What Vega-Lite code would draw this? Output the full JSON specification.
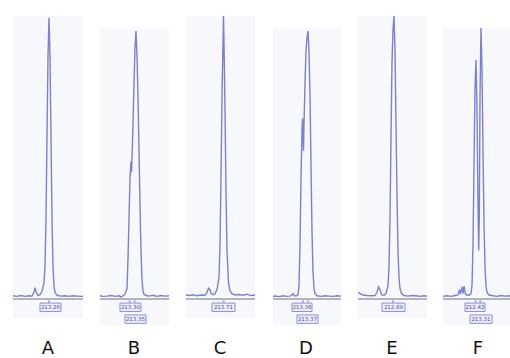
{
  "$schema": "https://vega.github.io/schema/vega-lite/v6.json",
  "padding": {"left": 10, "top": 13, "right": 0, "bottom": 0},
  "background": "white",
  "bounds": "flush",
  "config": {"view": {"stroke": null}, "facet": {"spacing": 16}},
  "data": {"values": [
      {"kind":"bg","panel": "A", "t1": 0, "t2": 70, "top": 105, "bottom": -7},
      {"kind":"bg","panel": "B", "t1": 1, "t2": 70, "top": 100.6, "bottom": -9.6},
      {"kind":"bg","panel": "C", "t1": 1, "t2": 70, "top": 105, "bottom": -7},
      {"kind":"bg","panel": "D", "t1": 2, "t2": 70, "top": 100.6, "bottom": -9.6},
      {"kind":"bg","panel": "E", "t1": 1, "t2": 70, "top": 105, "bottom": -7},
      {"kind":"bg","panel": "F", "t1": 0, "t2": 70, "top": 100.6, "bottom": -9.6},
      {"kind":"trace","panel":"A","t":0,"v":1.2},{"kind":"trace","panel":"A","t":4,"v":1.0},{"kind":"trace","panel":"A","t":8,"v":1.3},{"kind":"trace","panel":"A","t":12,"v":1.0},{"kind":"trace","panel":"A","t":16,"v":1.2},{"kind":"trace","panel":"A","t":19,"v":1.1},{"kind":"trace","panel":"A","t":21,"v":2.5},{"kind":"trace","panel":"A","t":22,"v":4.2},{"kind":"trace","panel":"A","t":23,"v":2.8},{"kind":"trace","panel":"A","t":25,"v":1.3},{"kind":"trace","panel":"A","t":27,"v":1.6},{"kind":"trace","panel":"A","t":29,"v":2.8},{"kind":"trace","panel":"A","t":31,"v":6},{"kind":"trace","panel":"A","t":32,"v":12},{"kind":"trace","panel":"A","t":33,"v":30},{"kind":"trace","panel":"A","t":34,"v":60},{"kind":"trace","panel":"A","t":35,"v":90},{"kind":"trace","panel":"A","t":36,"v":104.3},{"kind":"trace","panel":"A","t":37,"v":90},{"kind":"trace","panel":"A","t":38,"v":60},{"kind":"trace","panel":"A","t":39,"v":30},{"kind":"trace","panel":"A","t":40,"v":12},{"kind":"trace","panel":"A","t":41,"v":5},{"kind":"trace","panel":"A","t":42,"v":2.5},{"kind":"trace","panel":"A","t":44,"v":1.4},{"kind":"trace","panel":"A","t":48,"v":1.1},{"kind":"trace","panel":"A","t":52,"v":1.2},{"kind":"trace","panel":"A","t":56,"v":1.0},{"kind":"trace","panel":"A","t":60,"v":1.2},{"kind":"trace","panel":"A","t":64,"v":1.1},{"kind":"trace","panel":"A","t":68,"v":1.0},{"kind":"trace","panel":"A","t":70,"v":1.1},
      {"kind":"trace","panel":"B","t":1,"v":1.2},{"kind":"trace","panel":"B","t":4,"v":1.0},{"kind":"trace","panel":"B","t":8,"v":1.1},{"kind":"trace","panel":"B","t":12,"v":1.3},{"kind":"trace","panel":"B","t":16,"v":1.0},{"kind":"trace","panel":"B","t":20,"v":1.2},{"kind":"trace","panel":"B","t":22,"v":0.8},{"kind":"trace","panel":"B","t":24,"v":1.2},{"kind":"trace","panel":"B","t":26,"v":1.8},{"kind":"trace","panel":"B","t":28,"v":4},{"kind":"trace","panel":"B","t":29,"v":15},{"kind":"trace","panel":"B","t":30,"v":30},{"kind":"trace","panel":"B","t":31,"v":45},{"kind":"trace","panel":"B","t":32,"v":51},{"kind":"trace","panel":"B","t":32.5,"v":47},{"kind":"trace","panel":"B","t":33,"v":52},{"kind":"trace","panel":"B","t":34,"v":65},{"kind":"trace","panel":"B","t":35,"v":80},{"kind":"trace","panel":"B","t":36,"v":93},{"kind":"trace","panel":"B","t":37,"v":99.4},{"kind":"trace","panel":"B","t":38,"v":90},{"kind":"trace","panel":"B","t":39,"v":75},{"kind":"trace","panel":"B","t":40,"v":55},{"kind":"trace","panel":"B","t":41,"v":35},{"kind":"trace","panel":"B","t":42,"v":18},{"kind":"trace","panel":"B","t":43,"v":7},{"kind":"trace","panel":"B","t":44,"v":3},{"kind":"trace","panel":"B","t":45,"v":1.8},{"kind":"trace","panel":"B","t":47,"v":1.3},{"kind":"trace","panel":"B","t":50,"v":1.1},{"kind":"trace","panel":"B","t":54,"v":1.4},{"kind":"trace","panel":"B","t":58,"v":1.0},{"kind":"trace","panel":"B","t":62,"v":1.3},{"kind":"trace","panel":"B","t":66,"v":1.1},{"kind":"trace","panel":"B","t":70,"v":1.2},
      {"kind":"trace","panel":"C","t":1,"v":1.5},{"kind":"trace","panel":"C","t":4,"v":1.3},{"kind":"trace","panel":"C","t":8,"v":1.6},{"kind":"trace","panel":"C","t":12,"v":1.2},{"kind":"trace","panel":"C","t":16,"v":1.5},{"kind":"trace","panel":"C","t":20,"v":1.4},{"kind":"trace","panel":"C","t":22,"v":2.5},{"kind":"trace","panel":"C","t":23.5,"v":4},{"kind":"trace","panel":"C","t":25,"v":3.5},{"kind":"trace","panel":"C","t":26,"v":2},{"kind":"trace","panel":"C","t":28,"v":1.6},{"kind":"trace","panel":"C","t":30,"v":2},{"kind":"trace","panel":"C","t":32,"v":3.5},{"kind":"trace","panel":"C","t":34,"v":8},{"kind":"trace","panel":"C","t":35,"v":20},{"kind":"trace","panel":"C","t":36,"v":45},{"kind":"trace","panel":"C","t":37,"v":75},{"kind":"trace","panel":"C","t":38,"v":95},{"kind":"trace","panel":"C","t":38.5,"v":105},{"kind":"trace","panel":"C","t":39,"v":95},{"kind":"trace","panel":"C","t":40,"v":70},{"kind":"trace","panel":"C","t":41,"v":40},{"kind":"trace","panel":"C","t":42,"v":18},{"kind":"trace","panel":"C","t":43.5,"v":6},{"kind":"trace","panel":"C","t":45,"v":3},{"kind":"trace","panel":"C","t":47,"v":2},{"kind":"trace","panel":"C","t":50,"v":1.5},{"kind":"trace","panel":"C","t":54,"v":1.7},{"kind":"trace","panel":"C","t":58,"v":1.4},{"kind":"trace","panel":"C","t":62,"v":1.8},{"kind":"trace","panel":"C","t":66,"v":1.3},{"kind":"trace","panel":"C","t":70,"v":1.5},
      {"kind":"trace","panel":"D","t":2,"v":1.0},{"kind":"trace","panel":"D","t":4,"v":1.1},{"kind":"trace","panel":"D","t":8,"v":0.9},{"kind":"trace","panel":"D","t":12,"v":1.2},{"kind":"trace","panel":"D","t":16,"v":1.0},{"kind":"trace","panel":"D","t":19,"v":1.1},{"kind":"trace","panel":"D","t":21,"v":1.6},{"kind":"trace","panel":"D","t":22,"v":2.0},{"kind":"trace","panel":"D","t":23,"v":1.3},{"kind":"trace","panel":"D","t":25,"v":1.1},{"kind":"trace","panel":"D","t":27,"v":1.6},{"kind":"trace","panel":"D","t":28,"v":5},{"kind":"trace","panel":"D","t":29,"v":20},{"kind":"trace","panel":"D","t":30,"v":45},{"kind":"trace","panel":"D","t":31,"v":62},{"kind":"trace","panel":"D","t":31.5,"v":67},{"kind":"trace","panel":"D","t":32,"v":60},{"kind":"trace","panel":"D","t":32.5,"v":55},{"kind":"trace","panel":"D","t":33,"v":65},{"kind":"trace","panel":"D","t":34,"v":80},{"kind":"trace","panel":"D","t":35,"v":92},{"kind":"trace","panel":"D","t":36,"v":97},{"kind":"trace","panel":"D","t":37,"v":99.4},{"kind":"trace","panel":"D","t":38,"v":92},{"kind":"trace","panel":"D","t":39,"v":75},{"kind":"trace","panel":"D","t":40,"v":50},{"kind":"trace","panel":"D","t":41,"v":25},{"kind":"trace","panel":"D","t":42,"v":10},{"kind":"trace","panel":"D","t":43,"v":4},{"kind":"trace","panel":"D","t":44,"v":2},{"kind":"trace","panel":"D","t":46,"v":1.2},{"kind":"trace","panel":"D","t":50,"v":1.0},{"kind":"trace","panel":"D","t":54,"v":1.2},{"kind":"trace","panel":"D","t":58,"v":1.1},{"kind":"trace","panel":"D","t":62,"v":1.0},{"kind":"trace","panel":"D","t":66,"v":1.2},{"kind":"trace","panel":"D","t":70,"v":1.1},
      {"kind":"trace","panel":"E","t":1,"v":2.5},{"kind":"trace","panel":"E","t":3,"v":2.0},{"kind":"trace","panel":"E","t":6,"v":1.5},{"kind":"trace","panel":"E","t":10,"v":1.3},{"kind":"trace","panel":"E","t":14,"v":1.2},{"kind":"trace","panel":"E","t":18,"v":1.3},{"kind":"trace","panel":"E","t":20,"v":2.5},{"kind":"trace","panel":"E","t":21.5,"v":4.5},{"kind":"trace","panel":"E","t":23,"v":3.5},{"kind":"trace","panel":"E","t":24.5,"v":1.6},{"kind":"trace","panel":"E","t":27,"v":1.4},{"kind":"trace","panel":"E","t":29,"v":2},{"kind":"trace","panel":"E","t":31,"v":5},{"kind":"trace","panel":"E","t":32,"v":12},{"kind":"trace","panel":"E","t":33,"v":30},{"kind":"trace","panel":"E","t":34,"v":60},{"kind":"trace","panel":"E","t":35,"v":88},{"kind":"trace","panel":"E","t":36,"v":100},{"kind":"trace","panel":"E","t":37,"v":105},{"kind":"trace","panel":"E","t":38,"v":92},{"kind":"trace","panel":"E","t":39,"v":65},{"kind":"trace","panel":"E","t":40,"v":38},{"kind":"trace","panel":"E","t":41,"v":18},{"kind":"trace","panel":"E","t":42,"v":8},{"kind":"trace","panel":"E","t":43,"v":4},{"kind":"trace","panel":"E","t":44.5,"v":2},{"kind":"trace","panel":"E","t":47,"v":1.3},{"kind":"trace","panel":"E","t":51,"v":1.1},{"kind":"trace","panel":"E","t":55,"v":1.3},{"kind":"trace","panel":"E","t":59,"v":1.2},{"kind":"trace","panel":"E","t":63,"v":1.0},{"kind":"trace","panel":"E","t":67,"v":1.2},{"kind":"trace","panel":"E","t":70,"v":1.1},
      {"kind":"trace","panel":"F","t":0,"v":1.0},{"kind":"trace","panel":"F","t":4,"v":1.2},{"kind":"trace","panel":"F","t":8,"v":1.0},{"kind":"trace","panel":"F","t":12,"v":1.3},{"kind":"trace","panel":"F","t":15,"v":1.5},{"kind":"trace","panel":"F","t":16.5,"v":3.5},{"kind":"trace","panel":"F","t":17.5,"v":1.8},{"kind":"trace","panel":"F","t":19,"v":4.5},{"kind":"trace","panel":"F","t":20,"v":2},{"kind":"trace","panel":"F","t":21,"v":4.8},{"kind":"trace","panel":"F","t":22.5,"v":1.8},{"kind":"trace","panel":"F","t":24,"v":1.5},{"kind":"trace","panel":"F","t":26,"v":1.4},{"kind":"trace","panel":"F","t":28,"v":2},{"kind":"trace","panel":"F","t":29,"v":5},{"kind":"trace","panel":"F","t":30,"v":20},{"kind":"trace","panel":"F","t":31,"v":50},{"kind":"trace","panel":"F","t":32,"v":78},{"kind":"trace","panel":"F","t":33,"v":88.7},{"kind":"trace","panel":"F","t":34,"v":70},{"kind":"trace","panel":"F","t":35,"v":35},{"kind":"trace","panel":"F","t":35.7,"v":18},{"kind":"trace","panel":"F","t":36.3,"v":30},{"kind":"trace","panel":"F","t":37,"v":75},{"kind":"trace","panel":"F","t":38,"v":100.5},{"kind":"trace","panel":"F","t":39,"v":85},{"kind":"trace","panel":"F","t":40,"v":55},{"kind":"trace","panel":"F","t":41,"v":28},{"kind":"trace","panel":"F","t":42,"v":12},{"kind":"trace","panel":"F","t":43,"v":5},{"kind":"trace","panel":"F","t":44,"v":2.5},{"kind":"trace","panel":"F","t":46,"v":1.5},{"kind":"trace","panel":"F","t":50,"v":1.2},{"kind":"trace","panel":"F","t":54,"v":1.0},{"kind":"trace","panel":"F","t":58,"v":1.3},{"kind":"trace","panel":"F","t":62,"v":1.1},{"kind":"trace","panel":"F","t":66,"v":1.2},{"kind":"trace","panel":"F","t":70,"v":1.0},
      {"kind":"box","panel":"A","t1":27,"t2":48,"v1":-1.5,"v2":-4.6,"label":"213.26"},
      {"kind":"box","panel":"B","t1":21,"t2":42,"v1":-1.5,"v2":-4.6,"label":"213.30"},
      {"kind":"box","panel":"B","t1":26,"t2":47,"v1":-5.9,"v2":-9.0,"label":"213.35"},
      {"kind":"box","panel":"C","t1":27,"t2":50,"v1":-1.5,"v2":-4.6,"label":"213.71"},
      {"kind":"box","panel":"D","t1":21,"t2":41,"v1":-1.5,"v2":-4.6,"label":"213.36"},
      {"kind":"box","panel":"D","t1":26,"t2":47,"v1":-5.9,"v2":-9.0,"label":"213.37"},
      {"kind":"box","panel":"E","t1":25,"t2":48,"v1":-1.5,"v2":-4.6,"label":"212.89"},
      {"kind":"box","panel":"F","t1":22,"t2":42,"v1":-1.5,"v2":-4.6,"label":"212.42"},
      {"kind":"box","panel":"F","t1":27,"t2":49,"v1":-5.9,"v2":-9.0,"label":"213.31"},
      {"kind":"peak","panel":"A","t":36},{"kind":"peak","panel":"B","t":30.7},{"kind":"peak","panel":"B","t":35.7},{"kind":"peak","panel":"C","t":38.7},
      {"kind":"peak","panel":"D","t":32},{"kind":"peak","panel":"D","t":37},{"kind":"peak","panel":"E","t":36},{"kind":"peak","panel":"F","t":32.7},{"kind":"peak","panel":"F","t":37.3}
  ]},
  "facet": {
    "column": {
      "field": "panel",
      "type": "nominal",
      "header": {
        "title": null,
        "labelOrient": "bottom",
        "labelFont": "DejaVu Sans",
        "labelFontSize": 18,
        "labelColor": "#111111",
        "labelPadding": 14
      }
    }
  },
  "spacing": {"column": 16, "row": 0},
  "spec": {
    "width": 70,
    "height": 310,
    "layer": [
      {
        "transform": [{"filter": "datum.kind === 'bg'"}],
        "mark": {"type": "rect", "color": "#f7f8fc"},
        "encoding": {
          "x": {"field": "t1", "type": "quantitative", "scale": {"domain": [0, 70], "nice": false, "zero": false}, "axis": null},
          "x2": {"field": "t2"},
          "y": {"field": "top", "type": "quantitative", "scale": {"domain": [-10, 105], "nice": false, "zero": false}, "axis": null},
          "y2": {"field": "bottom"}
        }
      },
      {
        "transform": [{"filter": "datum.kind === 'bg'"}],
        "mark": {"type": "rule", "color": "#b5b5b5", "strokeWidth": 2},
        "encoding": {
          "x": {"field": "t1", "type": "quantitative"},
          "x2": {"field": "t2"},
          "y": {"datum": 0, "type": "quantitative"}
        }
      },
      {
        "transform": [{"filter": "datum.kind === 'trace'"}],
        "mark": {"type": "line", "color": "#7c80d3", "strokeWidth": 1.4},
        "encoding": {
          "x": {"field": "t", "type": "quantitative"},
          "y": {"field": "v", "type": "quantitative"}
        }
      },
      {
        "transform": [{"filter": "datum.kind === 'peak'"}],
        "mark": {"type": "point", "shape": "square", "filled": true, "size": 4, "color": "#7c80d3"},
        "encoding": {
          "x": {"field": "t", "type": "quantitative"},
          "y": {"datum": -0.9, "type": "quantitative"}
        }
      },
      {
        "transform": [{"filter": "datum.kind === 'box'"}],
        "mark": {"type": "rect", "fill": "#eceefa", "stroke": "#8b8fd8", "strokeWidth": 1},
        "encoding": {
          "x": {"field": "t1", "type": "quantitative"},
          "x2": {"field": "t2"},
          "y": {"field": "v1", "type": "quantitative"},
          "y2": {"field": "v2"}
        }
      },
      {
        "transform": [{"filter": "datum.kind === 'box'"}, {"calculate": "(datum.t1 + datum.t2) / 2", "as": "tc"}, {"calculate": "(datum.v1 + datum.v2) / 2", "as": "vc"}],
        "mark": {"type": "text", "fontSize": 5.5, "font": "DejaVu Sans", "color": "#4d5198", "baseline": "middle", "align": "center"},
        "encoding": {
          "x": {"field": "tc", "type": "quantitative"},
          "y": {"field": "vc", "type": "quantitative"},
          "text": {"field": "label"}
        }
      }
    ]
  }
}
